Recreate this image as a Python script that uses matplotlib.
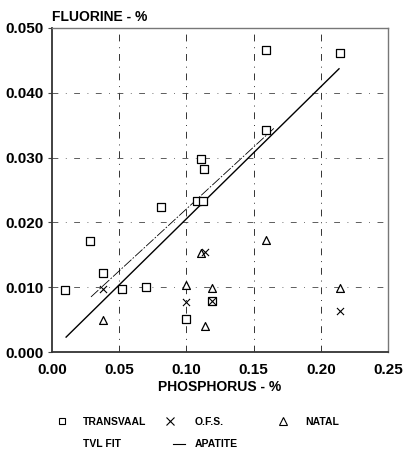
import matplotlib
matplotlib.use("Agg")
import matplotlib.pyplot as plt
from matplotlib.lines import Line2D

plt.rcParams["font.family"] = ["Liberation Sans", "DejaVu Sans"]
plt.rcParams["font.weight"] = "bold"

# data
transvaal_p = [0.010, 0.028, 0.038, 0.052, 0.070, 0.081, 0.100, 0.108, 0.112,
               0.111, 0.113, 0.119, 0.159, 0.159, 0.214]
transvaal_f = [0.0095, 0.0172, 0.0122, 0.0097, 0.0101, 0.0224, 0.0051, 0.0233, 0.0233,
               0.0298, 0.0282, 0.0078, 0.0466, 0.0342, 0.0461]

ofs_p = [0.038, 0.100, 0.114, 0.119, 0.214]
ofs_f = [0.0097, 0.0077, 0.0154, 0.0078, 0.0063]

natal_p = [0.038, 0.100, 0.111, 0.119, 0.114, 0.159, 0.214]
natal_f = [0.0049, 0.0103, 0.0153, 0.0099, 0.0040, 0.0173, 0.0098]

tvl_fit_p = [0.029, 0.165]
tvl_fit_f = [0.0085, 0.0345]

apatite_p = [0.0105, 0.2135]
apatite_f = [0.0023, 0.0437]

x_ticks = [0.00, 0.05, 0.10, 0.15, 0.20, 0.25]
y_ticks = [0.000, 0.010, 0.020, 0.030, 0.040, 0.050]

W, H = 403, 451
fig = plt.figure(figsize=(W / 100, H / 100), dpi=100)
ax = fig.add_axes([0.129, 0.2195, 0.834, 0.7185])

# broken dash-dot grid like the old plotter output
for xv in x_ticks[1:-1]:
    ax.axvline(xv, color="#333333", lw=0.7, ls=(0, (7, 6, 1, 6)), zorder=1)
for yv in y_ticks[1:-1]:
    ax.axhline(yv, color="#444444", lw=0.6, ls=(0, (7, 9, 1, 9)), zorder=1)

ax.plot(apatite_p, apatite_f, color="black", lw=1.0, zorder=3)
ax.plot(tvl_fit_p, tvl_fit_f, color="black", lw=0.6, ls=(0, (12, 2, 2, 2)), zorder=3)

ax.scatter(transvaal_p, transvaal_f, marker="s", s=28, facecolors="white",
           edgecolors="black", linewidths=0.9, zorder=4)
ax.scatter(ofs_p, ofs_f, marker="x", s=26, color="black", linewidths=0.8, zorder=5)
ax.scatter(natal_p, natal_f, marker="^", s=32, facecolors="white",
           edgecolors="black", linewidths=0.9, zorder=4)

ax.set_xlim(0, 0.25)
ax.set_ylim(0, 0.050)
ax.set_xticks(x_ticks)
ax.set_yticks(y_ticks)
ax.set_xticklabels([f"{v:.2f}" for v in x_ticks])
ax.set_yticklabels([f"{v:.3f}" for v in y_ticks])
ax.tick_params(axis="both", labelsize=11, length=3, width=0.8, color="#444444", pad=3)
ax.tick_params(axis="x", length=0, pad=8)

for side in ["left", "bottom"]:
    ax.spines[side].set_linewidth(1.3)
    ax.spines[side].set_color("#333333")
for side in ["top", "right"]:
    ax.spines[side].set_linewidth(1.0)
    ax.spines[side].set_color("#777777")

fig.text(0.129, 0.963, "FLUORINE - %", fontsize=10, fontweight="bold",
         ha="left", va="center")
ax.set_xlabel("PHOSPHORUS - %", fontsize=10, fontweight="bold", labelpad=2)

# legend laid out by hand under the plot (pixel positions of the scan)
def px(x, y):
    return x / W, 1 - y / H

legend_rows = [
    [("s", "TRANSVAAL", 62, 83), ("x", "O.F.S.", 170, 195), ("^", "NATAL", 283, 305)],
    [(None, "TVL FIT", 62, 83), ("-", "APATITE", 179, 195)],
]
legend_y = [422, 444]
for row, ly in zip(legend_rows, legend_y):
    for mk, label, hx, tx in row:
        if mk == "-":
            x0, y0 = px(hx - 6, ly)
            x1, _ = px(hx + 6, ly)
            fig.add_artist(Line2D([x0, x1], [y0, y0], color="black", lw=0.8))
        elif mk is not None:
            mx, my = px(hx, ly - 1)
            fig.add_artist(Line2D([mx], [my], marker=mk, ls="none", mfc="white",
                                  mec="black", color="black", ms=5 if mk == "s" else 6,
                                  mew=0.8))
        tx_, ty_ = px(tx, ly)
        fig.text(tx_, ty_, label, fontsize=7.5, fontweight="bold", ha="left", va="center")

fig.savefig("out.png", dpi=100, facecolor="white")
